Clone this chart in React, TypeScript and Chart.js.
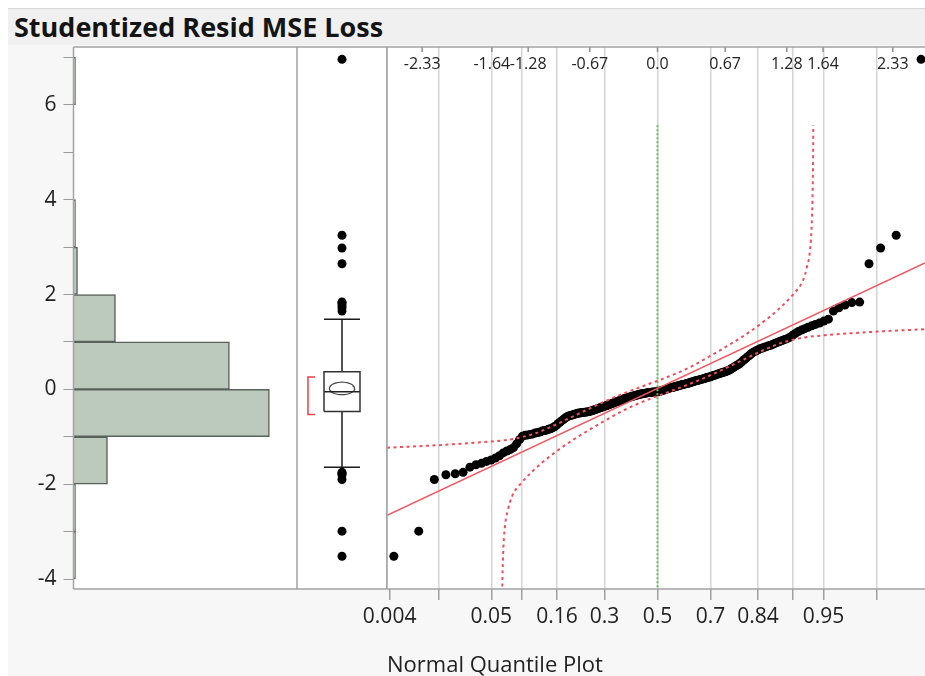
import { useEffect, useRef } from 'react';
import { Chart, registerables } from 'chart.js';

Chart.register(...registerables);

const FONT = '"Open Sans", "Noto Sans", "DejaVu Sans", sans-serif';

// ---- data: sorted studentized residuals, grouped by histogram bin ----
const RESID_TAIL_LOW = [-3.52, -2.99];
const RESID_NEG2_NEG1 = [-1.90, -1.80, -1.78, -1.75, -1.64, -1.59, -1.56, -1.52, -1.49, -1.45, -1.40, -1.34, -1.30, -1.27, -1.23, -1.15, -1.06];
const RESID_NEG1_0 = [
  -0.99, -0.97, -0.96, -0.95, -0.94, -0.92, -0.91, -0.90, -0.88, -0.87,
  -0.86, -0.84, -0.83, -0.81, -0.79, -0.76, -0.72, -0.69, -0.66, -0.63,
  -0.60, -0.58, -0.56, -0.55, -0.54, -0.53, -0.52, -0.51, -0.50, -0.50,
  -0.49, -0.49, -0.48, -0.48, -0.47, -0.47, -0.46, -0.45, -0.44, -0.43,
  -0.42, -0.41, -0.40, -0.39, -0.38, -0.37, -0.36, -0.35, -0.34, -0.33,
  -0.32, -0.31, -0.30, -0.29, -0.28, -0.27, -0.26, -0.25, -0.24, -0.23,
  -0.22, -0.21, -0.20, -0.19, -0.18, -0.17, -0.165, -0.16, -0.15, -0.145,
  -0.14, -0.13, -0.125, -0.12, -0.11, -0.105, -0.10, -0.095, -0.09, -0.085,
  -0.08, -0.075, -0.07, -0.068, -0.065, -0.062, -0.06, -0.058, -0.056, -0.054,
  -0.052, -0.048, -0.042, -0.036, -0.03, -0.022, -0.014, -0.006,
];
const RESID_0_1 = [
  0.003, 0.01, 0.02, 0.03, 0.035, 0.04, 0.045, 0.05, 0.06, 0.065,
  0.07, 0.08, 0.085, 0.09, 0.10, 0.105, 0.11, 0.12, 0.125, 0.13,
  0.14, 0.15, 0.155, 0.16, 0.17, 0.18, 0.185, 0.19, 0.20, 0.21,
  0.215, 0.22, 0.23, 0.24, 0.25, 0.255, 0.26, 0.27, 0.28, 0.29,
  0.30, 0.31, 0.32, 0.33, 0.34, 0.35, 0.36, 0.365, 0.375, 0.39,
  0.40, 0.42, 0.44, 0.46, 0.48, 0.50, 0.52, 0.54, 0.57, 0.60,
  0.63, 0.66, 0.69, 0.72, 0.75, 0.78, 0.80, 0.82, 0.84, 0.86,
  0.87, 0.89, 0.90, 0.92, 0.93, 0.95, 0.97, 0.99,
];
const RESID_1_2 = [1.01, 1.03, 1.05, 1.07, 1.10, 1.14, 1.18, 1.22, 1.25, 1.28, 1.31, 1.34, 1.37, 1.40, 1.44, 1.48, 1.65, 1.72, 1.78, 1.83, 1.84];
const RESID_TAIL_HIGH = [2.65, 2.98, 3.25, 6.96];

// ---- axes / ticks ----
const Y_MIN = -4.21;
const Y_MAX = 7.22;
const Y_TICKS = [-4, -3, -2, -1, 0, 1, 2, 3, 4, 5, 6, 7];
const Y_TICK_LABELS = ['-4', '', '-2', '', '0', '', '2', '', '4', '', '6', ''];
const HIST_BIN_EDGES = [-4, -3, -2, -1, 0, 1, 2, 3, 4, 5, 6, 7];
const COUNT_MAX = 111.8;

const Z_MIN = -2.678;
const Z_MAX = 2.649;
const PROB_TICKS = [0.004, 0.015, 0.05, 0.09, 0.16, 0.3, 0.5, 0.7, 0.84, 0.91, 0.95, 0.985];
const PROB_TICK_LABELS = ['0.004', '', '0.05', '', '0.16', '0.3', '0.5', '0.7', '0.84', '', '0.95', ''];
const Z_TICKS = [-2.33, -1.64, -1.28, -0.67, 0, 0.67, 1.28, 1.64, 2.33];
const Z_TICK_LABELS = ['-2.33', '-1.64', '-1.28', '-0.67', '0.0', '0.67', '1.28', '1.64', '2.33'];

// ---- fitted normal line and confidence bands ----
const FIT_INTERCEPT = 0.02;
const FIT_SLOPE = 1.0;
const REF_LINE_TOP = 5.57;
const UPPER_BAND_Z = [-2.678, -2.371, -2.035, -1.708, -1.441, -1.213, -1.064, -0.767, -0.441, -0.104, 0.025, 0.223, 0.351, 0.52, 0.688, 0.847, 1.015, 1.183, 1.342, 1.441, 1.48, 1.51, 1.53, 1.54, 1.543];
const UPPER_BAND_V = [-1.23, -1.2, -1.16, -1.11, -1.05, -0.93, -0.8, -0.5, -0.18, 0.1, 0.2, 0.37, 0.5, 0.7, 0.91, 1.12, 1.37, 1.66, 2.0, 2.3, 2.58, 2.93, 3.63, 4.69, 5.57];
const LOWER_BAND_Z = [-1.543, -1.54, -1.53, -1.51, -1.48, -1.441, -1.342, -1.183, -1.015, -0.847, -0.688, -0.52, -0.351, -0.223, -0.025, 0.104, 0.441, 0.767, 1.064, 1.213, 1.441, 1.708, 2.035, 2.371, 2.678];
const LOWER_BAND_V = [-5.53, -4.65, -3.59, -2.89, -2.54, -2.26, -1.96, -1.62, -1.33, -1.08, -0.87, -0.66, -0.46, -0.33, -0.16, -0.06, 0.22, 0.54, 0.84, 0.97, 1.09, 1.15, 1.2, 1.24, 1.27];

// ---- derived ----
const RESID = [...RESID_TAIL_LOW, ...RESID_NEG2_NEG1, ...RESID_NEG1_0, ...RESID_0_1, ...RESID_1_2, ...RESID_TAIL_HIGH].sort((a, b) => a - b);
const N = RESID.length;

function normInv(p: number): number {
  const a = [-39.69683028665376, 220.9460984245205, -275.9285104469687, 138.357751867269, -30.66479806614716, 2.506628277459239];
  const b = [-54.47609879822406, 161.5858368580409, -155.6989798598866, 66.80131188771972, -13.28068155288572];
  const c = [-0.007784894002430293, -0.3223964580411365, -2.400758277161838, -2.549732539343734, 4.374664141464968, 2.938163982698783];
  const d = [0.007784695709041462, 0.3224671290700398, 2.445134137142996, 3.754408661907416];
  const plow = 0.02425;
  if (p < plow) {
    const q = Math.sqrt(-2 * Math.log(p));
    return (((((c[0] * q + c[1]) * q + c[2]) * q + c[3]) * q + c[4]) * q + c[5]) / ((((d[0] * q + d[1]) * q + d[2]) * q + d[3]) * q + 1);
  }
  if (p <= 1 - plow) {
    const q = p - 0.5;
    const r = q * q;
    return ((((((a[0] * r + a[1]) * r + a[2]) * r + a[3]) * r + a[4]) * r + a[5]) * q) / (((((b[0] * r + b[1]) * r + b[2]) * r + b[3]) * r + b[4]) * r + 1);
  }
  const q = Math.sqrt(-2 * Math.log(1 - p));
  return -(((((c[0] * q + c[1]) * q + c[2]) * q + c[3]) * q + c[4]) * q + c[5]) / ((((d[0] * q + d[1]) * q + d[2]) * q + d[3]) * q + 1);
}

function quantile(p: number): number {
  const r = (N + 1) * p;
  const lo = Math.floor(r);
  const f = r - lo;
  return RESID[lo - 1] + f * (RESID[lo] - RESID[lo - 1]);
}

const framePlugin = (sides: { left?: boolean; right?: boolean; top?: boolean; bottom?: boolean }) => ({
  id: 'panelFrame',
  beforeDraw(chart: any) {
    const { ctx, chartArea: a } = chart;
    ctx.save();
    ctx.fillStyle = '#ffffff';
    ctx.fillRect(a.left, a.top, a.right - a.left, a.bottom - a.top);
    ctx.restore();
  },
  afterDraw(chart: any) {
    const { ctx, chartArea: a } = chart;
    ctx.save();
    ctx.strokeStyle = '#a3a3a3';
    ctx.lineWidth = 1.5;
    ctx.beginPath();
    if (sides.left) { ctx.moveTo(a.left, a.top); ctx.lineTo(a.left, a.bottom); }
    if (sides.right) { ctx.moveTo(a.right, a.top); ctx.lineTo(a.right, a.bottom); }
    if (sides.top) { ctx.moveTo(a.left, a.top); ctx.lineTo(a.right, a.top); }
    if (sides.bottom) { ctx.moveTo(a.left, a.bottom); ctx.lineTo(a.right, a.bottom); }
    ctx.stroke();
    ctx.restore();
  },
});

const topAxisPlugin = {
  id: 'topQuantileAxis',
  afterDatasetsDraw(chart: any) {
    const { ctx, chartArea: a, scales } = chart;
    const x = scales.x;
    ctx.save();
    ctx.strokeStyle = '#8f8f8f';
    ctx.lineWidth = 1.5;
    ctx.fillStyle = '#222';
    ctx.font = `16px ${FONT}`;
    ctx.textAlign = 'center';
    ctx.textBaseline = 'middle';
    Z_TICKS.forEach((z, i) => {
      const px = x.getPixelForValue(z);
      ctx.beginPath();
      ctx.moveTo(px, a.top);
      ctx.lineTo(px, a.top + 5);
      ctx.stroke();
      ctx.fillText(Z_TICK_LABELS[i], px, a.top + 17);
    });
    ctx.restore();
  },
};

const seg = (points: { x: number; y: number }[], color: string, width: number, extra: any = {}) => ({
  data: points,
  showLine: true,
  borderColor: color,
  borderWidth: width,
  pointRadius: 0,
  pointHoverRadius: 0,
  fill: false,
  tension: 0,
  order: 1,
  ...extra,
});

const baseOptions = (padding: any) => ({
  responsive: false,
  animation: false as const,
  events: [] as any[],
  layout: { padding, autoPadding: false },
  plugins: { legend: { display: false }, tooltip: { enabled: false } },
});

function histogramConfig(): any {
  const counts: number[] = [];
  for (let i = 0; i < HIST_BIN_EDGES.length - 1; i++) {
    counts.push(RESID.filter((v) => v >= HIST_BIN_EDGES[i] && v < HIST_BIN_EDGES[i + 1]).length);
  }
  const data = counts
    .map((c, i) => ({ x: c, y: (HIST_BIN_EDGES[i] + HIST_BIN_EDGES[i + 1]) / 2 }))
    .filter((d) => d.x > 0);
  return {
    type: 'bar',
    data: {
      datasets: [{
        data,
        backgroundColor: '#bccabd',
        borderColor: '#58625a',
        borderWidth: 1.5,
        borderSkipped: 'start',
        barPercentage: 1,
        categoryPercentage: 1,
      }],
    },
    options: {
      ...baseOptions({ top: 39, bottom: 87, left: 0, right: 0 }),
      indexAxis: 'y',
      scales: {
        x: { type: 'linear', min: 0, max: COUNT_MAX, display: false },
        y: {
          type: 'linear',
          position: 'left',
          min: Y_MIN,
          max: Y_MAX,
          offset: false,
          afterBuildTicks: (s: any) => { s.ticks = Y_TICKS.map((v) => ({ value: v })); },
          afterFit: (s: any) => { s.width = 65.5; },
          ticks: {
            autoSkip: false,
            callback: (_v: any, i: number) => Y_TICK_LABELS[i],
            font: { family: FONT, size: 21 },
            color: '#222',
            padding: 7,
          },
          grid: { drawOnChartArea: false, drawTicks: true, tickLength: 10, color: '#9b9b9b', lineWidth: 1, offset: false },
          border: { display: false },
        },
      },
    },
    plugins: [framePlugin({ left: true, right: true, top: true, bottom: true })],
  };
}

function boxConfig(): any {
  const q1 = quantile(0.25);
  const med = quantile(0.5);
  const q3 = quantile(0.75);
  const iqr = q3 - q1;
  const loFence = q1 - 1.5 * iqr;
  const hiFence = q3 + 1.5 * iqr;
  const inside = RESID.filter((v) => v >= loFence && v <= hiFence);
  const wLo = Math.min(...inside);
  const wHi = Math.max(...inside);
  const outliers = RESID.filter((v) => v < loFence || v > hiFence);
  const mean = RESID.reduce((s, v) => s + v, 0) / N;
  const sd = Math.sqrt(RESID.reduce((s, v) => s + (v - mean) ** 2, 0) / (N - 1));
  const ci = 1.971 * sd / Math.sqrt(N);
  // shortest half
  const h = Math.floor(N / 2);
  let best = 0;
  for (let i = 0; i + h - 1 < N; i++) {
    if (RESID[i + h - 1] - RESID[i] < RESID[best + h - 1] - RESID[best]) best = i;
  }
  const shLo = RESID[best];
  const shHi = RESID[best + h - 1];

  const BOX_HALF = 0.2;
  const LENS_HALF = 0.14;
  const BR_X = -0.378;
  const BR_END = -0.3;
  const lens: { x: number; y: number }[] = [];
  for (let k = 0; k <= 40; k++) {
    const t = (k / 40) * Math.PI * 2;
    lens.push({ x: LENS_HALF * Math.cos(t), y: mean + ci * Math.sin(t) });
  }
  const black = '#1a1a1a';
  return {
    type: 'scatter',
    data: {
      datasets: [
        seg([{ x: -BOX_HALF, y: q1 }, { x: BOX_HALF, y: q1 }, { x: BOX_HALF, y: q3 }, { x: -BOX_HALF, y: q3 }, { x: -BOX_HALF, y: q1 }], '#333', 1.5),
        seg([{ x: -BOX_HALF, y: med }, { x: BOX_HALF, y: med }], '#222', 1.5),
        seg([{ x: 0, y: q3 }, { x: 0, y: wHi }], black, 1.5),
        seg([{ x: 0, y: q1 }, { x: 0, y: wLo }], black, 1.5),
        seg([{ x: -BOX_HALF, y: wHi }, { x: BOX_HALF, y: wHi }], black, 1.5),
        seg([{ x: -BOX_HALF, y: wLo }, { x: BOX_HALF, y: wLo }], black, 1.5),
        seg(lens, '#444', 1.2),
        seg([{ x: BR_END, y: shHi }, { x: BR_X, y: shHi }, { x: BR_X, y: shLo }, { x: BR_END, y: shLo }], '#e8414b', 1.5),
        {
          data: outliers.map((v) => ({ x: 0, y: v })),
          pointRadius: 4.5,
          pointBackgroundColor: '#000',
          pointBorderWidth: 0,
          showLine: false,
          order: 2,
        },
      ],
    },
    options: {
      ...baseOptions({ top: 39, bottom: 87, left: 0, right: 0 }),
      scales: {
        x: { type: 'linear', min: -0.5, max: 0.5, display: false },
        y: { type: 'linear', min: Y_MIN, max: Y_MAX, display: false },
      },
    },
    plugins: [framePlugin({ left: true, right: true, top: true, bottom: true })],
  };
}

function quantileConfig(): any {
  const points = RESID.map((v, i) => ({ x: normInv((i + 1) / (N + 1)), y: v }));
  const upper = UPPER_BAND_Z.map((z, i) => ({ x: z, y: UPPER_BAND_V[i] }));
  const lower = LOWER_BAND_Z.map((z, i) => ({ x: z, y: LOWER_BAND_V[i] }));
  const bandStyle = { borderDash: [3, 3.5], cubicInterpolationMode: 'monotone' };
  return {
    type: 'scatter',
    data: {
      datasets: [
        seg(upper, '#ef4f5a', 2, bandStyle),
        seg(lower, '#ef4f5a', 2, bandStyle),
        seg([{ x: Z_MIN, y: FIT_INTERCEPT + FIT_SLOPE * Z_MIN }, { x: Z_MAX, y: FIT_INTERCEPT + FIT_SLOPE * Z_MAX }], '#f0575f', 1.5),
        seg([{ x: 0, y: REF_LINE_TOP }, { x: 0, y: Y_MIN }], '#5cc45c', 2, { borderDash: [2, 2] }),
        {
          data: points,
          pointRadius: 4.5,
          pointBackgroundColor: '#000',
          pointBorderWidth: 0,
          showLine: false,
          order: 5,
        },
      ],
    },
    options: {
      ...baseOptions({ top: 39, left: 40, right: 0, bottom: 0 }),
      scales: {
        x: {
          type: 'linear',
          position: 'bottom',
          min: Z_MIN,
          max: Z_MAX,
          afterBuildTicks: (s: any) => { s.ticks = PROB_TICKS.map((p) => ({ value: normInv(p) })); },
          afterFit: (s: any) => { s.height = 87; },
          ticks: {
            autoSkip: false,
            maxRotation: 0,
            callback: (_v: any, i: number) => PROB_TICK_LABELS[i],
            font: { family: FONT, size: 21 },
            color: '#222',
            padding: 4,
          },
          grid: {
            color: (c: any) => (c.index === 0 ? 'rgba(0,0,0,0)' : '#d4d4d4'),
            lineWidth: 1.5,
            tickColor: '#a0a0a0',
            tickWidth: 1.5,
            tickLength: 11,
          },
          border: { display: false },
          title: {
            display: true,
            text: 'Normal Quantile Plot',
            align: 'start',
            font: { family: FONT, size: 22 },
            color: '#222',
            padding: { top: 0, bottom: -3 },
          },
        },
        y: { type: 'linear', min: Y_MIN, max: Y_MAX, display: false },
      },
    },
    plugins: [framePlugin({ left: true, top: true, bottom: true }), topAxisPlugin],
  };
}

export default function App() {
  const histRef = useRef<HTMLCanvasElement>(null);
  const boxRef = useRef<HTMLCanvasElement>(null);
  const qRef = useRef<HTMLCanvasElement>(null);

  useEffect(() => {
    const charts = [
      new Chart(histRef.current as HTMLCanvasElement, histogramConfig()),
      new Chart(boxRef.current as HTMLCanvasElement, boxConfig()),
      new Chart(qRef.current as HTMLCanvasElement, quantileConfig()),
    ];
    return () => charts.forEach((c) => c.destroy());
  }, []);

  const canvasStyle = (left: number, width: number): any => ({ position: 'absolute', left, top: 0, width, height: 668 });

  return (
    <div style={{ position: 'fixed', left: 8, top: 8, width: 917, height: 668, background: '#f7f7f7', overflow: 'hidden' }}>
      <div
        style={{
          position: 'absolute', left: 0, top: 0, width: 917, height: 37,
          background: '#f0f0f0', borderTop: '1px solid #d6d6d6', boxSizing: 'border-box',
        }}
      >
        <span
          style={{
            position: 'absolute', left: 6, top: -1, fontFamily: FONT, fontWeight: 700,
            fontSize: 27, lineHeight: 'normal', color: '#141414', whiteSpace: 'nowrap',
          }}
        >
          Studentized Resid MSE Loss
        </span>
      </div>
      <canvas ref={histRef} width={289} height={668} style={canvasStyle(0, 289)} />
      <canvas ref={boxRef} width={90} height={668} style={canvasStyle(289, 90)} />
      <canvas ref={qRef} width={578} height={668} style={canvasStyle(339, 578)} />
    </div>
  );
}
